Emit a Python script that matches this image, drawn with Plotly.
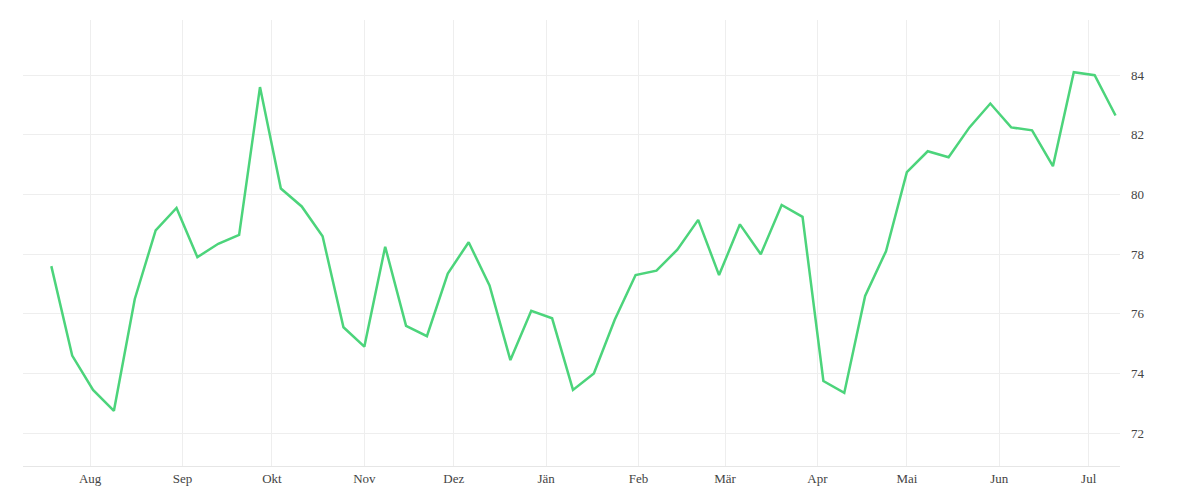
import pandas as pd
import plotly.graph_objects as go

start = "2023-07-19"
values = [77.6, 74.6, 73.45, 72.75, 76.5, 78.8, 79.55, 77.9, 78.35, 78.65,
          83.6, 80.2, 79.6, 78.6, 75.55, 74.9, 78.25, 75.6, 75.25, 77.35,
          78.4, 76.95, 74.45, 76.1, 75.85, 73.45, 74.0, 75.8, 77.3, 77.45,
          78.15, 79.15, 77.3, 79.0, 78.0, 79.65, 79.25, 73.75, 73.35, 76.6,
          78.1, 80.75, 81.45, 81.25, 82.25, 83.05, 82.25, 82.15, 80.95, 84.1,
          84.0, 82.65]
dates = pd.date_range(start, periods=len(values), freq="7D")

month_ticks = pd.date_range("2023-08-01", "2024-07-01", freq="MS")
month_labels = ["Aug", "Sep", "Okt", "Nov", "Dez", "Jän", "Feb", "Mär", "Apr", "Mai", "Jun", "Jul"]

fig = go.Figure()
fig.add_trace(go.Scatter(x=dates, y=values, mode="lines",
                         line=dict(color="#4cd47b", width=2.5), hoverinfo="x+y"))

fig.update_layout(
    width=1200, height=500,
    margin=dict(l=15, r=88, t=12, b=42),
    plot_bgcolor="white", paper_bgcolor="white",
    font=dict(family="Liberation Serif", size=13, color="#444"),
    showlegend=False,
    xaxis=dict(range=["2023-07-09 12:00", "2024-07-11 12:00"],
               tickvals=month_ticks, ticktext=month_labels,
               showgrid=True, gridcolor="#eeeeee", zeroline=False,
               showline=True, linecolor="#e6e6e6", ticks=""),
    yaxis=dict(side="right", range=[70.9, 85.85], tickvals=[72, 74, 76, 78, 80, 82, 84],
               showgrid=True, gridcolor="#eeeeee", zeroline=False, ticks="",
               ticklabelstandoff=10),
)

fig.write_html("out.html")
